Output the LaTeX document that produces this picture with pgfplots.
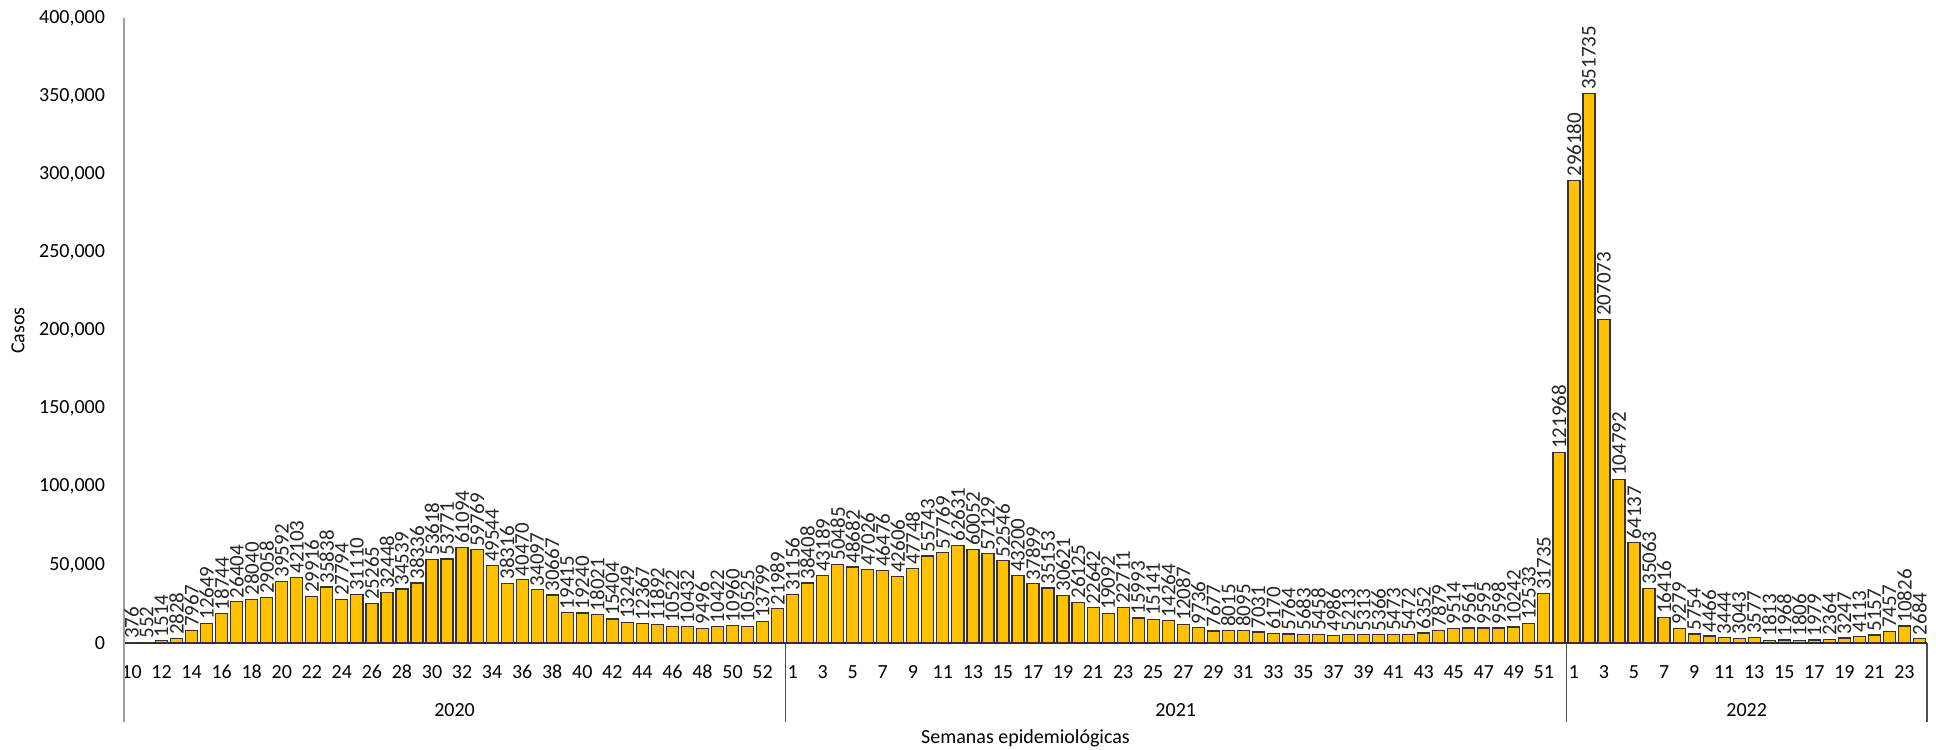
\documentclass[border=0pt]{standalone}
\usepackage{fontspec}
\setmainfont{Carlito}
\usepackage{pgfplots}
\pgfplotsset{compat=1.18}
\definecolor{barfill}{HTML}{FFC000}

\begin{document}
\begin{tikzpicture}
\begin{axis}[
    at={(0,0)}, anchor=south west,
    scale only axis,
    width=901.5pt, height=312.5pt,
    xmin=0.5, xmax=120.5,
    ymin=0, ymax=400000,
    clip=false,
    axis x line*=bottom,
    axis y line*=left,
    x axis line style={draw=black!85, line width=0.8pt},
    y axis line style={draw=gray!75, line width=1.2pt},
    major tick length=0pt,
    font=\fontsize{10}{12}\selectfont,
    ytick={0,50000,...,400000},
    scaled y ticks=false,
    yticklabel style={xshift=-6pt, /pgf/number format/fixed, /pgf/number format/precision=0,
        /pgf/number format/1000 sep={,}, /pgf/number format/assume math mode=true},
    xtick={1,3,...,119},
    xticklabels={10,12,14,16,18,20,22,24,26,28,30,32,34,36,38,40,42,44,46,48,50,52,
                 1,3,5,7,9,11,13,15,17,19,21,23,25,27,29,31,33,35,37,39,41,43,45,47,49,51,
                 1,3,5,7,9,11,13,15,17,19,21,23},
    xticklabel style={anchor=center, yshift=-14.5pt},
    ylabel={Casos},
    ylabel style={at={(axis description cs:-0.0588,0.5)}, anchor=center},
    xlabel={Semanas epidemiológicas},
    xlabel style={at={(axis description cs:0.5,-0.152)}, anchor=center},
]
\addplot[
    ybar, bar width=0.8,
    fill=barfill, draw=black!80, line width=0.6pt,
    nodes near coords={\pgfmathprintnumber[fixed,precision=0,1000 sep={},assume math mode=true]{\pgfplotspointmeta}},
    every node near coord/.append style={rotate=90, anchor=west, inner sep=1.5pt,
        font=\fontsize{10.5}{12}\selectfont, text=black!85},
] coordinates {
% 2020, semanas 10-53
(1,376)(2,552)(3,1514)(4,2828)(5,7967)(6,12649)(7,18744)(8,26404)(9,28040)(10,29058)
(11,39592)(12,42103)(13,29916)(14,35838)(15,27794)(16,31110)(17,25265)(18,32448)(19,34539)(20,38336)
(21,53618)(22,53771)(23,61094)(24,59769)(25,49544)(26,38316)(27,40470)(28,34097)(29,30667)(30,19415)
(31,19240)(32,18021)(33,15404)(34,13249)(35,12367)(36,11892)(37,10522)(38,10432)(39,9496)(40,10422)
(41,10960)(42,10525)(43,13799)(44,21989)
% 2021, semanas 1-52
(45,31156)(46,38408)(47,43189)(48,50485)(49,48682)(50,47026)(51,46476)(52,42606)(53,47748)(54,55743)
(55,57769)(56,62631)(57,60052)(58,57129)(59,52546)(60,43200)(61,37899)(62,35153)(63,30621)(64,26125)
(65,22642)(66,19092)(67,22711)(68,15993)(69,15141)(70,14264)(71,12087)(72,9736)(73,7677)(74,8015)
(75,8095)(76,7031)(77,6170)(78,5764)(79,5683)(80,5458)(81,4986)(82,5213)(83,5313)(84,5366)
(85,5473)(86,5472)(87,6352)(88,7879)(89,9514)(90,9561)(91,9595)(92,9598)(93,10242)(94,12533)
(95,31735)(96,121968)
% 2022, semanas 1-24
(97,296180)(98,351735)(99,207073)(100,104792)(101,64137)(102,35063)(103,16416)(104,9279)(105,5754)(106,4466)
(107,3444)(108,3043)(109,3577)(110,1813)(111,1968)(112,1806)(113,1979)(114,2364)(115,3247)(116,4113)
(117,5157)(118,7457)(119,10826)(120,2684)
};
% year separators and labels
\draw[gray!75, line width=1.2pt] (axis cs:0.5,0) -- ++(0pt,-39.5pt);
\draw[black!70, line width=0.6pt] (axis cs:44.5,0) -- ++(0pt,-39.5pt);
\draw[black!70, line width=0.6pt] (axis cs:96.5,0) -- ++(0pt,-39.5pt);
\draw[black!70, line width=0.6pt] (axis cs:120.5,0) -- ++(0pt,-39.5pt);
\node[yshift=-33.5pt] at (axis cs:22.5,0) {2020};
\node[yshift=-33.5pt] at (axis cs:70.5,0) {2021};
\node[yshift=-33.5pt] at (axis cs:108.5,0) {2022};
\end{axis}
\pgfresetboundingbox
\path[use as bounding box] (-62pt,-53pt) rectangle (906pt,321.5pt);
\end{tikzpicture}
\end{document}
